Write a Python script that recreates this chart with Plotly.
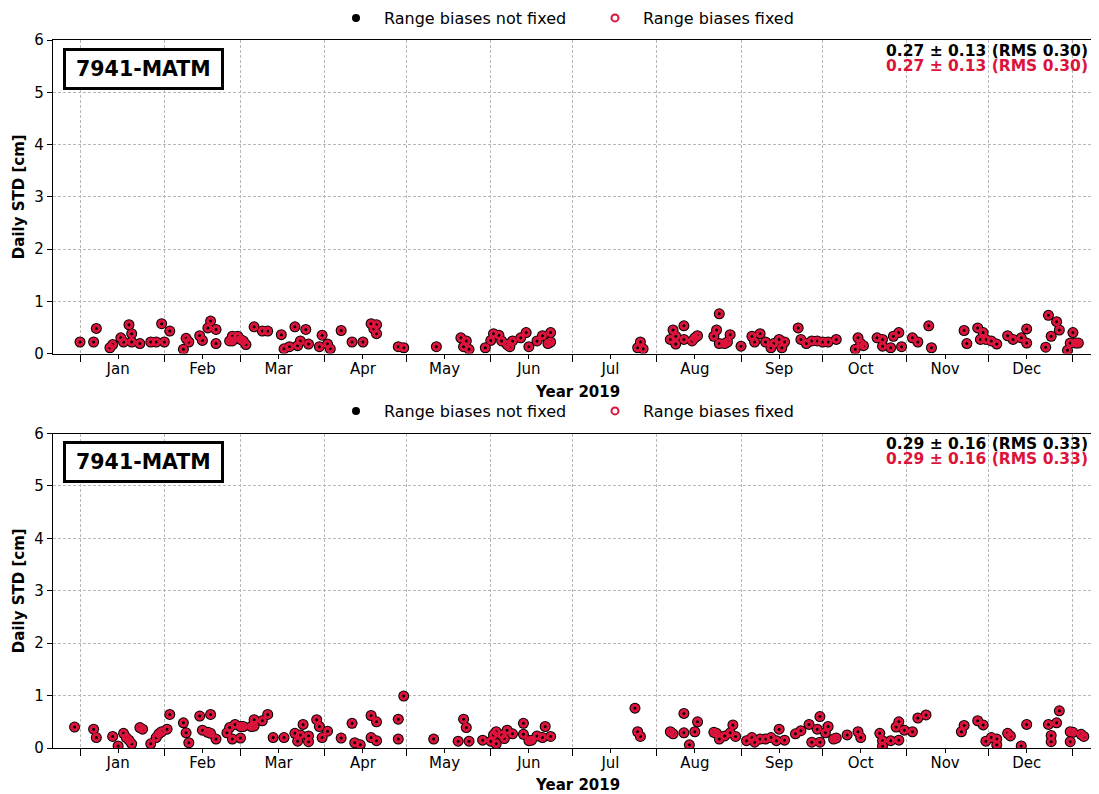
import plotly.graph_objects as go

# ---------------- data ----------------
station = "7941-MATM"
x_title = "Year 2019"
y_title = "Daily STD [cm]"
series_names = ["Range biases not fixed", "Range biases fixed"]
month_labels = ["Jan", "Feb", "Mar", "Apr", "May", "Jun",
                "Jul", "Aug", "Sep", "Oct", "Nov", "Dec"]
month_label_dates = ["2019-%02d-15" % m for m in range(1, 13)]
y_ticks = [0, 1, 2, 3, 4, 5, 6]

top_dates = [
    "2019-01-01", "2019-01-06", "2019-01-07", "2019-01-12", "2019-01-13", "2019-01-16", "2019-01-17",
    "2019-01-19", "2019-01-20", "2019-01-20", "2019-01-23", "2019-01-27", "2019-01-29", "2019-01-31",
    "2019-02-01", "2019-02-03", "2019-02-08", "2019-02-09", "2019-02-10", "2019-02-14", "2019-02-15",
    "2019-02-17", "2019-02-18", "2019-02-20", "2019-02-20", "2019-02-25", "2019-02-26", "2019-02-26",
    "2019-02-28", "2019-03-01", "2019-03-02", "2019-03-03", "2019-03-06", "2019-03-09", "2019-03-11",
    "2019-03-16", "2019-03-17", "2019-03-19", "2019-03-21", "2019-03-22", "2019-03-23", "2019-03-25",
    "2019-03-26", "2019-03-30", "2019-03-31", "2019-04-02", "2019-04-03", "2019-04-07", "2019-04-11",
    "2019-04-15", "2019-04-18", "2019-04-19", "2019-04-20", "2019-04-20", "2019-04-28", "2019-04-30",
    "2019-05-12", "2019-05-21", "2019-05-22", "2019-05-23", "2019-05-24", "2019-05-30", "2019-06-01",
    "2019-06-02", "2019-06-04", "2019-06-05", "2019-06-07", "2019-06-08", "2019-06-09", "2019-06-12",
    "2019-06-14", "2019-06-15", "2019-06-18", "2019-06-20", "2019-06-22", "2019-06-23", "2019-06-23",
    "2019-07-25", "2019-07-26", "2019-07-27",
    "2019-08-06", "2019-08-07", "2019-08-08", "2019-08-08", "2019-08-11", "2019-08-11", "2019-08-14",
    "2019-08-15", "2019-08-16", "2019-08-22", "2019-08-23", "2019-08-24", "2019-08-24", "2019-08-26",
    "2019-08-27", "2019-08-28",
    "2019-09-01", "2019-09-05", "2019-09-06", "2019-09-08", "2019-09-10", "2019-09-12", "2019-09-13",
    "2019-09-15", "2019-09-16", "2019-09-17", "2019-09-22", "2019-09-23", "2019-09-25", "2019-09-27",
    "2019-09-29",
    "2019-10-01", "2019-10-03", "2019-10-06", "2019-10-13", "2019-10-14", "2019-10-15", "2019-10-16",
    "2019-10-21", "2019-10-23", "2019-10-23", "2019-10-26", "2019-10-27", "2019-10-29", "2019-10-30",
    "2019-11-03", "2019-11-05", "2019-11-09", "2019-11-10", "2019-11-22", "2019-11-23", "2019-11-27",
    "2019-11-28", "2019-11-29", "2019-11-30",
    "2019-12-02", "2019-12-04", "2019-12-08", "2019-12-10", "2019-12-13", "2019-12-15", "2019-12-15",
    "2019-12-22", "2019-12-23", "2019-12-24", "2019-12-26", "2019-12-27", "2019-12-30", "2019-12-31",
    "2020-01-01", "2020-01-02", "2020-01-03",
]
top_std_not_fixed = [
    0.22, 0.22, 0.48, 0.11, 0.17, 0.30, 0.22,
    0.55, 0.38, 0.22, 0.19, 0.22, 0.22, 0.57,
    0.22, 0.43, 0.08, 0.29, 0.22, 0.34, 0.25,
    0.49, 0.62, 0.46, 0.19, 0.24, 0.33, 0.24,
    0.33, 0.27, 0.24, 0.17, 0.51, 0.43, 0.43,
    0.36, 0.09, 0.13, 0.51, 0.15, 0.24, 0.46,
    0.18, 0.13, 0.35, 0.18, 0.09, 0.44, 0.22,
    0.22, 0.57, 0.47, 0.55, 0.38, 0.13, 0.11,
    0.13, 0.30, 0.13, 0.24, 0.08, 0.11, 0.25,
    0.38, 0.35, 0.24, 0.17, 0.13, 0.24, 0.30,
    0.40, 0.13, 0.24, 0.34, 0.19, 0.22, 0.40,
    0.11, 0.22, 0.09,
    0.27, 0.45, 0.33, 0.18, 0.27, 0.53, 0.24,
    0.30, 0.34, 0.33, 0.45, 0.76, 0.19, 0.19,
    0.22, 0.36,
    0.14, 0.33, 0.22, 0.38, 0.22, 0.11, 0.19,
    0.27, 0.11, 0.22, 0.49, 0.27, 0.19, 0.24,
    0.24,
    0.22, 0.22, 0.27, 0.08, 0.30, 0.19, 0.15,
    0.30, 0.27, 0.14, 0.11, 0.33, 0.40, 0.13,
    0.30, 0.22, 0.53, 0.11, 0.44, 0.19, 0.49,
    0.27, 0.40, 0.27,
    0.24, 0.18, 0.34, 0.27, 0.30, 0.47, 0.20,
    0.12, 0.73, 0.33, 0.61, 0.45, 0.06, 0.20,
    0.40, 0.20, 0.20,
]
top_std_fixed = list(top_std_not_fixed)   # identical in the picture
top_stats = "0.27 ± 0.13 (RMS 0.30)"

bottom_dates = [
    "2018-12-30", "2019-01-06", "2019-01-07", "2019-01-13", "2019-01-15", "2019-01-17", "2019-01-18",
    "2019-01-19", "2019-01-20", "2019-01-23", "2019-01-24", "2019-01-27", "2019-01-29", "2019-01-30",
    "2019-01-31", "2019-02-02", "2019-02-03", "2019-02-08", "2019-02-09", "2019-02-10", "2019-02-14",
    "2019-02-15", "2019-02-17", "2019-02-18", "2019-02-18", "2019-02-20", "2019-02-24", "2019-02-25",
    "2019-02-26", "2019-02-27", "2019-03-01", "2019-03-01", "2019-03-02", "2019-03-05", "2019-03-06",
    "2019-03-06", "2019-03-09", "2019-03-11", "2019-03-13", "2019-03-17", "2019-03-21", "2019-03-22",
    "2019-03-23", "2019-03-24", "2019-03-26", "2019-03-26", "2019-03-29", "2019-03-30", "2019-03-31",
    "2019-04-02", "2019-04-07", "2019-04-11", "2019-04-12", "2019-04-14", "2019-04-18", "2019-04-18",
    "2019-04-20", "2019-04-20", "2019-04-28", "2019-04-28", "2019-04-30", "2019-05-11", "2019-05-20",
    "2019-05-22", "2019-05-23", "2019-05-24", "2019-05-29", "2019-06-01", "2019-06-02", "2019-06-03",
    "2019-06-03", "2019-06-05", "2019-06-06", "2019-06-07", "2019-06-09", "2019-06-13", "2019-06-13",
    "2019-06-15", "2019-06-16", "2019-06-18", "2019-06-20", "2019-06-21", "2019-06-23",
    "2019-07-24", "2019-07-25", "2019-07-26",
    "2019-08-06", "2019-08-07", "2019-08-11", "2019-08-11", "2019-08-13", "2019-08-15", "2019-08-16",
    "2019-08-22", "2019-08-23", "2019-08-24", "2019-08-26", "2019-08-28", "2019-08-29", "2019-08-30",
    "2019-09-03", "2019-09-05", "2019-09-06", "2019-09-08", "2019-09-10", "2019-09-12", "2019-09-14",
    "2019-09-15", "2019-09-17", "2019-09-21", "2019-09-23", "2019-09-26", "2019-09-27", "2019-09-29",
    "2019-09-30", "2019-09-30",
    "2019-10-02", "2019-10-03", "2019-10-05", "2019-10-06", "2019-10-10", "2019-10-14", "2019-10-15",
    "2019-10-22", "2019-10-23", "2019-10-23", "2019-10-26", "2019-10-28", "2019-10-29", "2019-10-29",
    "2019-10-31",
    "2019-11-03", "2019-11-05", "2019-11-08", "2019-11-21", "2019-11-22", "2019-11-27", "2019-11-29",
    "2019-11-30",
    "2019-12-02", "2019-12-04", "2019-12-04", "2019-12-08", "2019-12-09", "2019-12-13", "2019-12-15",
    "2019-12-23", "2019-12-24", "2019-12-24", "2019-12-26", "2019-12-27", "2019-12-31", "2019-12-31",
    "2020-01-01", "2020-01-04", "2020-01-05",
]
bottom_std_not_fixed = [
    0.40, 0.36, 0.20, 0.22, 0.04, 0.28, 0.20,
    0.15, 0.08, 0.39, 0.36, 0.08, 0.20, 0.27,
    0.31, 0.36, 0.64, 0.48, 0.29, 0.10, 0.61,
    0.34, 0.30, 0.64, 0.28, 0.17, 0.29, 0.39,
    0.17, 0.45, 0.19, 0.41, 0.41, 0.41, 0.42,
    0.54, 0.52, 0.64, 0.20, 0.20, 0.28, 0.13,
    0.25, 0.45, 0.23, 0.12, 0.54, 0.41, 0.20,
    0.32, 0.19, 0.47, 0.10, 0.06, 0.62, 0.20,
    0.50, 0.14, 0.17, 0.55, 0.99, 0.17, 0.13,
    0.55, 0.39, 0.13, 0.15, 0.13, 0.25, 0.08,
    0.31, 0.25, 0.18, 0.34, 0.27, 0.26, 0.47,
    0.14, 0.15, 0.23, 0.20, 0.41, 0.22,
    0.76, 0.31, 0.22,
    0.31, 0.27, 0.66, 0.29, 0.06, 0.31, 0.50,
    0.30, 0.28, 0.17, 0.23, 0.29, 0.44, 0.22,
    0.14, 0.20, 0.11, 0.17, 0.17, 0.20, 0.14,
    0.36, 0.15, 0.27, 0.33, 0.45, 0.11, 0.36,
    0.60, 0.11,
    0.29, 0.41, 0.17, 0.19, 0.25, 0.31, 0.20,
    0.28, 0.04, 0.14, 0.14, 0.40, 0.50, 0.15,
    0.34,
    0.31, 0.57, 0.63, 0.31, 0.43, 0.52, 0.44,
    0.13,
    0.20, 0.17, 0.06, 0.28, 0.23, 0.04, 0.45,
    0.45, 0.12, 0.24, 0.48, 0.71, 0.12, 0.31,
    0.30, 0.26, 0.22,
]
bottom_std_fixed = list(bottom_std_not_fixed)   # identical in the picture
bottom_stats = "0.29 ± 0.16 (RMS 0.33)"

# ---------------- styling ----------------
FONT = "DejaVu Sans"
RED = "#dc143c"
GRID = "#b8b8b8"
# the page body adds an 8px margin: the figure is sized so that it fits the window
OFF = 8
W, H = 1099 - OFF, 794 - OFF
ML, MR, MT, MB = 53 - OFF, 0, 40 - OFF, 46
PH = H - MT - MB
PW = W - ML - MR
PLOT_BOTTOM_PAGE = 794 - MB   # 748
PLOT_LEFT_PAGE = 53


def py(page_y):
    """page pixel row -> paper fraction"""
    return (PLOT_BOTTOM_PAGE - page_y) / PH


def px(page_x):
    return (page_x - PLOT_LEFT_PAGE) / PW


def cy(page_y):
    """page pixel row -> container fraction"""
    return 1 - (page_y - OFF) / H


def cx(page_x):
    return (page_x - OFF) / W


x_range = ["2018-12-22 01:40", "2020-01-10 14:00"]

fig = go.Figure()

panels = [
    (top_dates, top_std_not_fixed, top_std_fixed, "x", "y", "legend"),
    (bottom_dates, bottom_std_not_fixed, bottom_std_fixed, "x2", "y2", "legend2"),
]

for dates, nf, fx, xa, ya, lg in panels:
    fig.add_trace(go.Scatter(
        x=dates, y=nf, mode="markers", xaxis=xa, yaxis=ya, showlegend=False,
        marker=dict(symbol="circle", size=11, color="black", line=dict(width=0)),
        hoverinfo="skip"))
    fig.add_trace(go.Scatter(
        x=dates, y=fx, mode="markers", xaxis=xa, yaxis=ya, showlegend=False,
        marker=dict(symbol="circle-open", size=6, color=RED, line=dict(width=3, color=RED)),
        hoverinfo="skip"))
    # legend-only entries
    fig.add_trace(go.Scatter(
        x=[None], y=[None], mode="markers", xaxis=xa, yaxis=ya, name=series_names[0], legend=lg,
        marker=dict(symbol="circle", size=8, color="black")))
    fig.add_trace(go.Scatter(
        x=[None], y=[None], mode="markers", xaxis=xa, yaxis=ya, name=series_names[1], legend=lg,
        marker=dict(symbol="circle-open", size=7, color=RED, line=dict(width=2, color=RED))))

xaxis_common = dict(
    type="date", range=x_range,
    tickmode="array", tickvals=month_label_dates, ticktext=month_labels,
    ticks="outside", ticklen=4, tickwidth=1, tickcolor="black",
    ticklabelstandoff=-3,
    showgrid=False, zeroline=False,
    showline=True, linecolor="black", linewidth=1.2, mirror=True,
    tickfont=dict(family=FONT, size=15, color="black"),
    minor=dict(dtick="M1", tick0="2019-01-01", ticks="outside", ticklen=7, tickwidth=1,
               tickcolor="black", showgrid=True, gridcolor=GRID, gridwidth=1, griddash="3px,2px"),
    automargin=False,
)
yaxis_common = dict(
    range=[0, 6], tickmode="array", tickvals=y_ticks,
    ticks="outside", ticklen=5, tickwidth=1, tickcolor="black",
    showgrid=True, gridcolor=GRID, gridwidth=1, griddash="3px,2px",
    zeroline=False, showline=True, linecolor="black", linewidth=1.2, mirror=False,
    tickfont=dict(family=FONT, size=15, color="black"),
    title=dict(text="<b>%s</b>" % y_title, font=dict(family=FONT, size=15, color="black"),
               standoff=6),
    automargin=False,
)

top_dom = [py(353.5), 1.0]
bot_dom = [0.0, py(433.5)]

legend_common = dict(
    orientation="h", xanchor="left", yanchor="middle",
    xref="container", yref="container",
    font=dict(family=FONT, size=16, color="black"), bgcolor="rgba(0,0,0,0)",
    itemwidth=46, entrywidth=198, entrywidthmode="pixels",
)

fig.update_layout(
    width=W, height=H,
    margin=dict(l=ML, r=MR, t=MT, b=MB, autoexpand=False),
    paper_bgcolor="white", plot_bgcolor="white",
    font=dict(family=FONT, size=15, color="black"),
    xaxis=dict(domain=[0, 1], anchor="y", **xaxis_common),
    yaxis=dict(domain=top_dom, anchor="x", **yaxis_common),
    xaxis2=dict(domain=[0, 1], anchor="y2", **xaxis_common),
    yaxis2=dict(domain=bot_dom, anchor="x2", **yaxis_common),
    legend=dict(x=cx(357 - 29), y=cy(18), **legend_common),
    legend2=dict(x=cx(357 - 29), y=cy(411), **legend_common),
)

annotations = []
for stats, box_y, s1_y, s2_y, xt_y in [(top_stats, 69, 51, 66, 392),
                                        (bottom_stats, 462, 444, 459, 785)]:
    annotations.append(dict(
        text="<b>&#8201;%s&#8201;</b>" % station, xref="paper", yref="paper", x=px(63), y=py(box_y),
        xanchor="left", yanchor="middle", showarrow=False,
        font=dict(family=FONT, size=20.5, color="black"),
        bordercolor="black", borderwidth=3, borderpad=6, bgcolor="white"))
    annotations.append(dict(
        text="<b>%s</b>" % stats, xref="paper", yref="paper", x=px(1090), y=py(s1_y),
        xanchor="right", yanchor="middle", showarrow=False,
        font=dict(family=FONT, size=15.5, color="black")))
    annotations.append(dict(
        text="<b>%s</b>" % stats, xref="paper", yref="paper", x=px(1090), y=py(s2_y),
        xanchor="right", yanchor="middle", showarrow=False,
        font=dict(family=FONT, size=15.5, color=RED)))
    # x-axis title of each panel
    annotations.append(dict(
        text="<b>%s</b>" % x_title, xref="paper", yref="paper", x=px(577), y=py(xt_y),
        xanchor="center", yanchor="middle", showarrow=False,
        font=dict(family=FONT, size=15, color="black")))
fig.update_layout(annotations=annotations)

fig.write_html("out.html")
